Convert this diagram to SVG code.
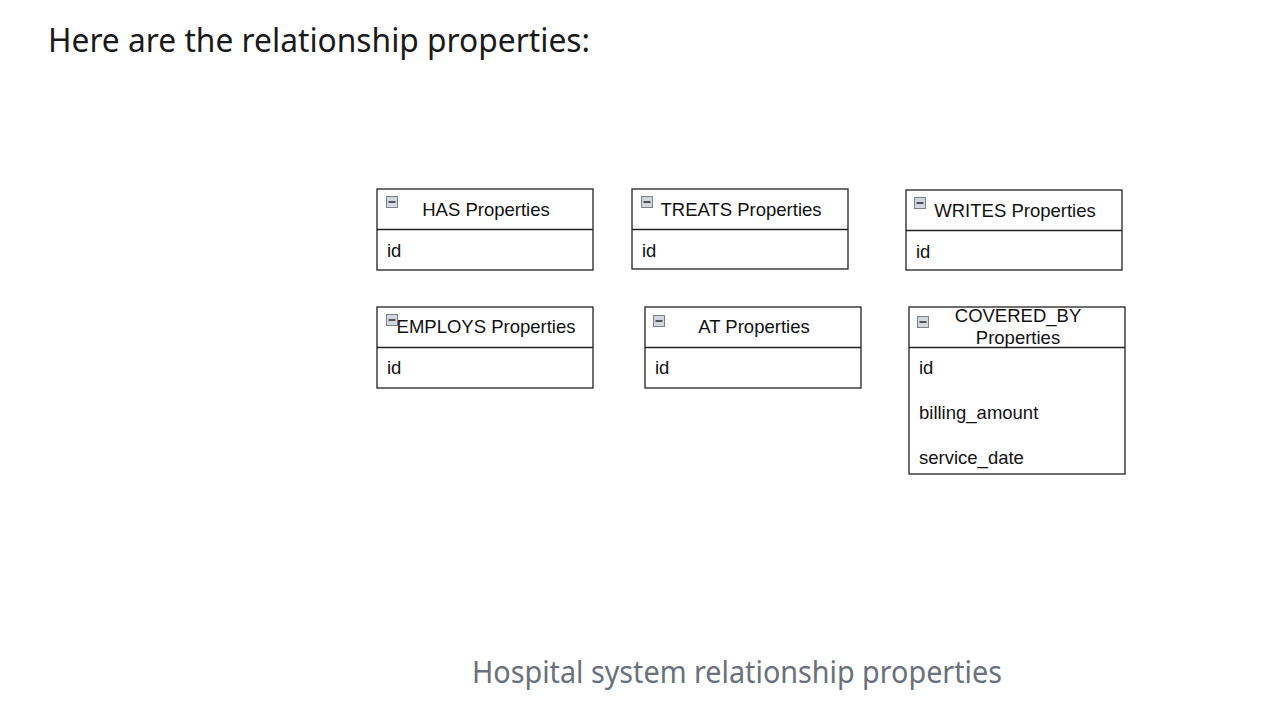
<svg xmlns="http://www.w3.org/2000/svg" width="1276" height="714" viewBox="0 0 1276 714">
<style>
.box{fill:#fff;stroke:#222;stroke-width:1.3}
.div{stroke:#222;stroke-width:1.3}
.ic{fill:#d3d6dc;stroke:#7d828c;stroke-width:1}
.icm{stroke:#333;stroke-width:1.6}
.t{font-family:"Liberation Sans",Arial,sans-serif;font-size:18.5px;fill:#111}
.h{font-family:"Source Sans Pro","Noto Sans",sans-serif;font-size:32px;fill:#1a1a1a}
.cap{font-family:"Source Sans Pro","Noto Sans",sans-serif;font-size:30px;fill:#6a717a}
</style>
<rect width="1276" height="714" fill="#fff"/>
<text class="h" x="48" y="52" textLength="542" lengthAdjust="spacingAndGlyphs">Here are the relationship properties:</text>
<g id="has">
<rect class="box" x="377" y="189" width="216" height="81"/>
<line class="div" x1="377" y1="229.5" x2="593" y2="229.5"/>
<rect class="ic" x="386.5" y="196.5" width="11" height="11"/><line class="icm" x1="388.5" y1="202" x2="395.5" y2="202"/>
<text class="t" x="486" y="216" text-anchor="middle">HAS Properties</text>
<text class="t" x="387" y="257">id</text>
</g>
<g id="treats">
<rect class="box" x="632" y="189" width="216" height="80"/>
<line class="div" x1="632" y1="229.5" x2="848" y2="229.5"/>
<rect class="ic" x="641.5" y="196.5" width="11" height="11"/><line class="icm" x1="643.5" y1="202" x2="650.5" y2="202"/>
<text class="t" x="741" y="216" text-anchor="middle">TREATS Properties</text>
<text class="t" x="642" y="257">id</text>
</g>
<g id="writes">
<rect class="box" x="906" y="190" width="216" height="80"/>
<line class="div" x1="906" y1="230.5" x2="1122" y2="230.5"/>
<rect class="ic" x="914.5" y="197.5" width="11" height="11"/><line class="icm" x1="916.5" y1="203" x2="923.5" y2="203"/>
<text class="t" x="1015" y="217" text-anchor="middle">WRITES Properties</text>
<text class="t" x="916" y="258">id</text>
</g>
<g id="employs">
<rect class="box" x="377" y="307" width="216" height="81"/>
<line class="div" x1="377" y1="347.5" x2="593" y2="347.5"/>
<rect class="ic" x="386.5" y="314.5" width="11" height="11"/><line class="icm" x1="388.5" y1="320" x2="395.5" y2="320"/>
<text class="t" x="486" y="333" text-anchor="middle">EMPLOYS Properties</text>
<text class="t" x="387" y="374">id</text>
</g>
<g id="at">
<rect class="box" x="645" y="307" width="216" height="81"/>
<line class="div" x1="645" y1="347.5" x2="861" y2="347.5"/>
<rect class="ic" x="653.5" y="315.5" width="11" height="11"/><line class="icm" x1="655.5" y1="321" x2="662.5" y2="321"/>
<text class="t" x="754" y="333" text-anchor="middle">AT Properties</text>
<text class="t" x="655" y="374">id</text>
</g>
<g id="covered_by">
<rect class="box" x="909" y="307" width="216" height="167"/>
<line class="div" x1="909" y1="347.5" x2="1125" y2="347.5"/>
<rect class="ic" x="917.5" y="316.5" width="11" height="11"/><line class="icm" x1="919.5" y1="322" x2="926.5" y2="322"/>
<text class="t" x="1018" y="322" text-anchor="middle">COVERED_BY</text>
<text class="t" x="1018" y="344" text-anchor="middle">Properties</text>
<text class="t" x="919" y="374">id</text>
<text class="t" x="919" y="419">billing_amount</text>
<text class="t" x="919" y="464">service_date</text>
</g>
<g id="connectors"></g>
<text class="cap" x="737" y="683" text-anchor="middle" textLength="530" lengthAdjust="spacingAndGlyphs">Hospital system relationship properties</text>
</svg>
